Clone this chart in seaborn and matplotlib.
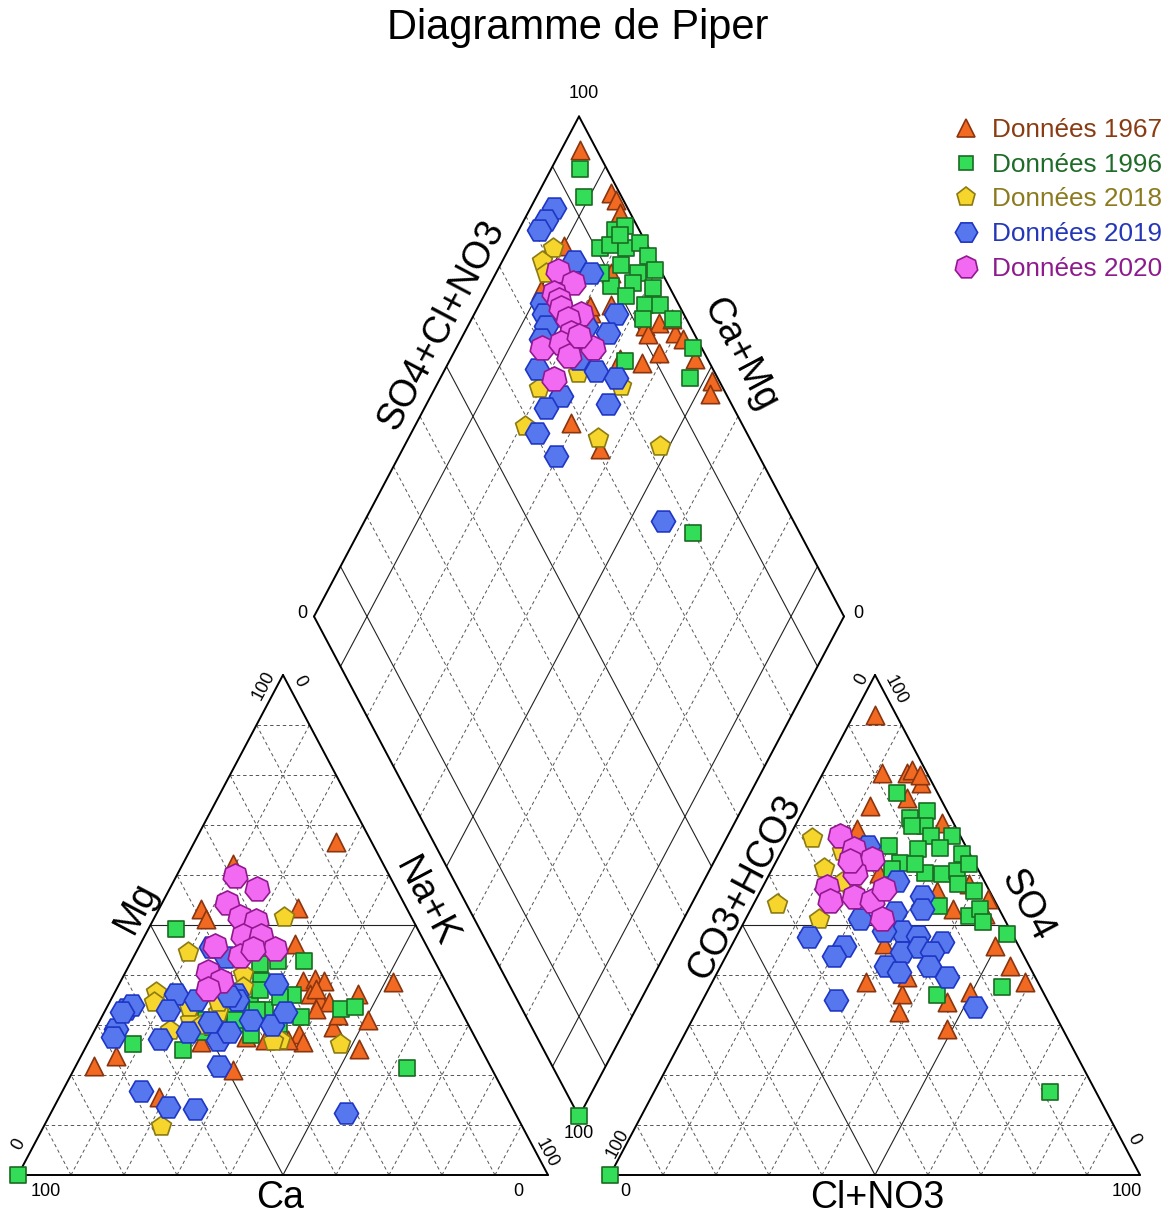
import numpy as np
import pandas as pd
import matplotlib
matplotlib.use("Agg")
import matplotlib.pyplot as plt
from matplotlib.lines import Line2D
import seaborn as sns

sns.set_theme(style="white")
plt.rcParams['font.family'] = ['Liberation Sans', 'DejaVu Sans']
plt.rcParams['text.color'] = 'black'

# ---------------- data ----------------
series_names = ["Données 1967", "Données 1996", "Données 2018", "Données 2019", "Données 2020"]

# Cation triangle: (Mg %, Na+K %)
cat_1967 = [(66.5,26.8),(38.6,51.5),(53.1,8.0),(51.1,9.9),(53.4,26.1),(46.2,29.1),(38.8,34.3),(39.2,36.4),
            (38.8,38.4),(36.2,36.9),(34.9,39.5),(34.5,41.5),(36.2,46.0),(33.2,39.7),(29.5,44.7),(30.9,50.6),
            (28.2,39.0),(26.6,40.5),(25.2,51.8),(27.6,29.3),(26.9,33.1),(26.9,37.5),(26.6,21.3),(21.7,3.4),
            (23.7,6.7),(20.9,30.1),(15.5,18.8),(62.1,9.5),(37.2,37.7),(31.9,44.4)]
cat_1996 = [(49.1,5.3),(42.8,32.6),(42.8,27.6),(42.2,24.5),(38.8,26.5),(35.9,33.9),(33.2,44.4),(33.6,46.7),
            (31.5,37.7),(33.2,16.7),(30.9,20.1),(32.2,23.8),(33.9,26.8),(32.9,30.1),(35.5,31.6),(26.2,8.6),
            (24.9,18.7),(28.6,20.3),(21.3,62.8),(36.9,27.2),(32.6,24.3),(30.2,27.0),(30.2,34.2),(0.0,0.0),
            (34.0,21.0),(31.0,25.5),(29.5,22.0),(33.0,28.5),(35.0,24.0),(28.0,30.0)]
cat_2018 = [(51.5,24.5),(44.5,9.8),(40.2,22.3),(36.5,7.8),(34.5,8.5),(32.6,21.4),(28.9,14.2),(26.9,35.9),
            (26.2,47.6),(34.5,20.5),(37.6,23.7),(26.7,34.8),(9.8,22.0),(31.0,17.0),(33.5,15.5),(30.0,19.5)]
cat_2019 = [(45.5,13.7),(43.5,17.5),(38.2,29.6),(36.2,23.1),(36.2,11.8),(32.9,11.8),(33.2,3.8),(33.9,4.5),
            (29.2,3.9),(27.6,4.1),(27.2,13.1),(28.6,17.8),(26.9,24.3),(28.6,25.6),(30.9,28.6),(29.9,32.9),
            (32.6,34.0),(21.8,27.0),(16.7,14.8),(13.5,21.6),(13.2,26.8),(12.3,55.8),(34.9,23.8),(32.6,3.4),
            (35.8,22.0),(35.0,16.0),(30.5,21.0)]
cat_2020 = [(59.8,11.1),(57.1,16.5),(54.4,12.3),(51.5,16.1),(50.8,19.5),(47.8,18.5),(47.8,22.0),(45.2,25.8),
            (45.8,14.2),(43.8,19.9),(40.5,15.6),(38.8,18.9),(37.2,17.2),(45.2,21.7)]

# Anion triangle: (SO4 %, Cl+NO3 %)
an_1967 = [(92.0,4.0),(80.3,11.1),(80.3,15.8),(81.0,16.4),(78.3,19.6),(80.0,18.5),(73.7,12.2),(75.4,18.3),
           (69.1,12.0),(70.4,27.4),(60.4,20.5),(56.8,33.3),(53.1,38.2),(55.1,43.8),(45.8,49.8),(41.8,54.6),
           (38.5,59.1),(46.2,28.6),(38.5,29.0),(36.2,37.0),(32.5,38.2),(34.5,46.3),(36.6,49.7),(29.2,49.0),
           (39.5,36.3),(52.1,44.7),(58.2,38.6)]
an_1996 = [(76.4,15.9),(71.4,20.9),(72.7,23.4),(69.7,24.6),(69.7,22.1),(67.7,30.6),(67.7,26.8),(65.7,19.7),
           (65.1,25.6),(65.4,29.6),(64.1,34.3),(62.4,23.5),(61.1,22.6),(60.4,29.2),(60.1,32.5),(60.8,35.0),
           (62.1,36.6),(58.1,36.7),(56.8,40.2),(53.8,35.1),(51.8,41.8),(53.1,43.3),(50.5,45.2),(48.2,50.8),
           (37.5,55.2),(35.9,43.8),(62.1,26.5),(16.6,74.8),(0.0,0.0)]
an_2018 = [(67.4,4.4),(61.4,9.6),(54.1,4.5),(51.1,13.8),(64.7,11.4),(57.0,17.0),(58.5,14.5)]
an_2019 = [(55.8,30.9),(53.1,32.3),(52.5,27.6),(51.1,21.7),(47.5,13.8),(45.8,21.2),(43.8,20.3),(48.8,30.7),
           (47.8,34.3),(48.8,27.3),(46.5,39.4),(44.5,32.9),(45.5,35.5),(44.5,38.5),(41.8,31.1),(40.5,34.2),
           (41.8,39.2),(39.5,43.8),(34.9,25.2),(33.5,52.2),(58.8,24.7),(65.7,15.9)]
an_2020 = [(67.7,9.6),(65.1,13.4),(63.1,17.9),(60.4,16.1),(57.5,12.2),(54.8,14.2),(55.5,18.2),(54.8,22.0),
           (57.1,23.1),(51.1,25.7),(62.7,14.0)]

# Diamond: (SO4+Cl+NO3 %, Ca+Mg %)
dia_1967 = [(96.7,96.5),(98.4,86.2),(98.6,84.6),(98.0,82.6),(84.2,89.8),(75.4,89.8),(82.6,78.0),(90.4,78.2),
            (91.4,66.6),(94.3,64.3),(96.4,60.2),(97.4,58.0),(91.3,65.1),(91.3,61.3),(87.1,63.5),(83.4,68.0),
            (97.6,53.8),(98.6,48.4),(97.0,47.4),(67.8,70.8),(70.6,62.8),(87.2,75.0),(83.0,79.0),(97.2,62.2)]
dia_1996 = [(94.9,94.5),(92.8,91.0),(90.7,82.9),(95.3,81.9),(97.6,80.4),(92.9,81.3),(95.7,77.9),(98.8,75.8),
            (99.0,73.1),(93.1,77.1),(95.5,73.1),(98.9,70.3),(89.1,76.9),(93.5,73.1),(96.8,68.8),(90.9,73.1),
            (93.5,68.7),(96.4,65.8),(91.8,67.6),(97.5,61.9),(98.4,55.2),(84.1,66.9),(94.8,52.8),(88.5,80.1),
            (95.8,80.4),(79.8,36.8),(0.0,0.0)]
dia_2018 = [(81.8,91.8),(78.6,92.4),(78.0,90.6),(65.3,80.3),(74.1,74.5),(58.9,79.1),(71.4,64.2),(82.3,51.7),
            (81.0,65.0),(76.7,75.3)]
dia_2019 = [(86.1,95.5),(83.3,95.9),(81.1,96.1),(84.6,86.4),(86.6,82.0),(74.4,88.2),(73.6,86.8),(72.7,85.3),
            (87.2,73.2),(83.8,72.8),(80.3,77.7),(66.8,82.6),(77.7,71.3),(80.8,66.8),(68.6,75.4),(64.5,77.1),
            (76.7,65.7),(60.4,76.2),(61.6,70.4),(70.5,84.9),(75.5,75.9),(75.3,43.7)]
dia_2020 = [(80.5,88.5),(82.1,84.5),(77.6,87.0),(77.9,85.4),(77.4,84.2),(80.6,79.8),(77.6,81.8),(76.8,79.8),
            (69.9,83.7),(73.9,80.7),(74.2,77.8),(79.4,74.2),(69.0,78.4),(78.0,78.0)]

cations = [cat_1967, cat_1996, cat_2018, cat_2019, cat_2020]
anions = [an_1967, an_1996, an_2018, an_2019, an_2020]
diamonds = [dia_1967, dia_1996, dia_2018, dia_2019, dia_2020]

face_colors = ["#F26A22", "#33DD57", "#F6D62C", "#5677EE", "#F36AF2"]
edge_colors = ["#8A3510", "#1A6B22", "#8C7A12", "#1E36C4", "#92188F"]
text_colors = ["#8A3B12", "#1F6B28", "#8C7B1E", "#2437B8", "#8E1B8E"]
markers = ["^", "s", "p", "H", (7, 0, 0)]
sizes = [175, 125, 225, 300, 330]

# ---------------- geometry ----------------
W, H = 1169, 1220
GAP = 11.7
S60 = np.sqrt(3) / 2
AX = 100 + GAP                       # anion triangle origin
B = np.array([100 + GAP / 2, GAP / 2 * np.sqrt(3)])   # diamond bottom vertex
U60 = np.array([0.5, S60])
U120 = np.array([-0.5, S60])

def cat_xy(mg, nak):
    return nak + mg / 2, mg * S60

def an_xy(so4, cl):
    return AX + cl + so4 / 2, so4 * S60

def dia_xy(so4cl, camg):
    p = B + camg * U120 + so4cl * U60
    return p[0], p[1]

rows = []
for name, c, a, d in zip(series_names, cations, anions, diamonds):
    for mg, nak in c:
        x, y = cat_xy(mg, nak); rows.append((name, x, y))
    for so4, cl in a:
        x, y = an_xy(so4, cl); rows.append((name, x, y))
    for s, cm in d:
        x, y = dia_xy(s, cm); rows.append((name, x, y))
df = pd.DataFrame(rows, columns=["series", "x", "y"])

fig = plt.figure(figsize=(W / 100, H / 100), dpi=100)
fig.patch.set_facecolor("white")
ax = fig.add_axes([0, 0, 1, 1])
ax.set_xlim(-18 / 5.3, (W - 18) / 5.3)
ax.set_ylim(-45 / 5.774, (H - 45) / 5.774)
ax.axis("off")

DASH = dict(color="#555555", lw=0.7, ls=(0, (3.5, 3.0)), zorder=1)
SOLID = dict(color="#222222", lw=0.8, ls="-", zorder=1.5)
EDGE = dict(color="black", lw=1.4, ls="-", zorder=2, solid_capstyle="round")

def seg(p, q, style):
    ax.plot([p[0], q[0]], [p[1], q[1]], **style)

def triangle(ox):
    bl = np.array([ox, 0.0]); br = np.array([ox + 100, 0.0]); tp = np.array([ox + 50, 100 * S60])
    for i in range(1, 10):
        f = i / 10
        st = SOLID if i == 5 else DASH
        seg((ox + 50 * f, 100 * S60 * f), (ox + 100 - 50 * f, 100 * S60 * f), st)
        seg((ox + 100 * f, 0), (ox + 100 * f + 50 * (1 - f), 100 * S60 * (1 - f)), st)
        seg((ox + 100 * (1 - f), 0), (ox + 50 * (1 - f), 100 * S60 * (1 - f)), st)
    for p, q in [(bl, br), (br, tp), (tp, bl)]:
        seg(p, q, EDGE)

triangle(0)
triangle(AX)

for i in range(1, 10):
    f = i * 10
    st = SOLID if i in (1, 5, 9) else DASH
    seg(B + f * U60, B + f * U60 + 100 * U120, st)
    seg(B + f * U120, B + f * U120 + 100 * U60, st)
L = B + 100 * U120; R = B + 100 * U60; T = B + 100 * U60 + 100 * U120
for p, q in [(B, L), (L, T), (T, R), (R, B)]:
    seg(p, q, EDGE)

# ---------------- points ----------------
for k, name in enumerate(series_names):
    sub = df[df.series == name]
    sns.scatterplot(data=sub, x="x", y="y", marker=markers[k], s=sizes[k],
                    color=face_colors[k], edgecolor=edge_colors[k], linewidth=1.2,
                    ax=ax, legend=False, zorder=3 + k, clip_on=False)
ax.set_xlabel(""); ax.set_ylabel("")

# ---------------- texts ----------------
p0 = ax.transData.transform((0, 0)); p1 = ax.transData.transform((50, 100 * S60))
ANG = np.degrees(np.arctan2(p1[1] - p0[1], p1[0] - p0[0]))

def ftxt(px, py, s, size, rot=0):
    fig.text(px / W, 1 - py / H, s, ha="center", va="center", fontsize=size,
             rotation=rot, rotation_mode="anchor", color="black")

fig.text(578 / W, 1 - 28 / H, "Diagramme de Piper", ha="center", va="center",
         fontsize=30, color="black")

LS = 27
ftxt(280, 1198, "Ca", LS)
ftxt(136, 907, "Mg", LS, ANG)
ftxt(426, 902, "Na+K", LS, -ANG)
ftxt(877, 1198, "Cl+NO3", LS)
ftxt(745, 888, "CO3+HCO3", LS, ANG)
ftxt(1027, 905, "SO4", LS, -ANG)
ftxt(442, 325, "SO4+Cl+NO3", LS, ANG)
ftxt(740, 355, "Ca+Mg", LS, -ANG)

TS = 13
ftxt(584, 93, "100", TS)
ftxt(302, 614, "0", TS)
ftxt(858, 614, "0", TS)
ftxt(579, 1133, "100", TS)
ftxt(264, 686, "100", TS, ANG)
ftxt(300, 681, "0", TS, -ANG)
ftxt(19, 1144, "0", TS, ANG)
ftxt(46, 1192, "100", TS)
ftxt(518, 1192, "0", TS)
ftxt(547, 1153, "100", TS, -ANG)
ftxt(862, 679, "0", TS, ANG)
ftxt(896, 690, "100", TS, -ANG)
ftxt(618, 1144, "100", TS, ANG)
ftxt(625, 1192, "0", TS)
ftxt(1127, 1192, "100", TS)
ftxt(1134, 1139, "0", TS, -ANG)

# ---------------- legend ----------------
leg_ms = [13, 10.5, 14, 16, 16.5]
handles = [Line2D([], [], ls="", marker=markers[k], markersize=leg_ms[k],
                  markerfacecolor=face_colors[k], markeredgecolor=edge_colors[k],
                  markeredgewidth=1.2) for k in range(5)]
fig.legend(handles, series_names, loc="upper left",
           bbox_to_anchor=(953 / W, 1 - 118 / H), frameon=False, fontsize=18.8,
           labelcolor=text_colors, borderpad=0, handlelength=1.0, handletextpad=0.5,
           labelspacing=0.41, borderaxespad=0)

fig.savefig("out.png", dpi=100, facecolor="white")
